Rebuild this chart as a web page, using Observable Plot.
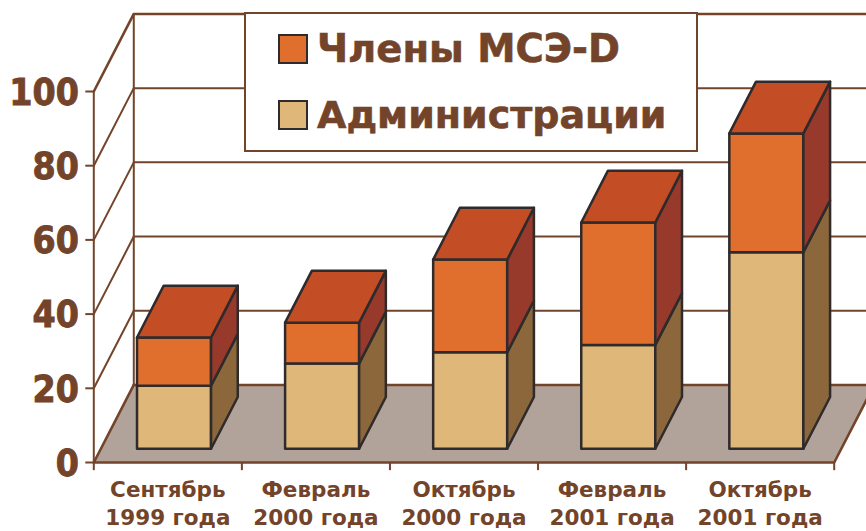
<!DOCTYPE html>
<html>
<head>
<meta charset="utf-8">
<script src="https://cdn.jsdelivr.net/npm/d3@7"></script>
<script src="https://cdn.jsdelivr.net/npm/@observablehq/plot@0.6"></script>
<style>
html,body{margin:0;padding:0;background:#fff;overflow:hidden}
#wrap{position:relative;width:866px;height:531px}
#wrap svg{display:block}
#legend{position:absolute;left:244px;top:12px;width:450px;height:136px;background:#fff;border:2px solid #73442a;
  font-family:"DejaVu Sans",sans-serif;font-weight:700;color:#73442a;-webkit-text-stroke:.6px #73442a}
.sw{position:absolute;left:32px;width:26px;height:26px;border:2px solid #2f2a2b}
.lb{position:absolute;left:71px;line-height:48px;white-space:nowrap}
g[aria-label="y-axis tick label"]{stroke:#73442a;stroke-width:.9px}
</style>
</head>
<body>
<div id="wrap"><div id="legend"></div></div>
<script>
const categories = ["Сентябрь\n1999 года","Февраль\n2000 года","Октябрь\n2000 года","Февраль\n2001 года","Октябрь\n2001 года"];
const administrations = [17,23,26,28,53];
const members = [13,11,25,33,32];
const yTicks = [0,20,40,60,80,100];
const seriesNames = ["Члены МСЭ-D","Администрации"];

const brown = "#73442a", ink = "#2f2a2b";
const floorColor = "#b1a39a";
const memberColors = {front:"#e06f2e", side:"#97392b", top:"#c34d25"};
const adminColors = {front:"#dfb779", side:"#8b673b", top:"#c34d25"};

// oblique projection, in data units: depth 1 = back wall
const depthX = 0.27, depthY = 20.9;
const project = (x, y, d) => ({x: x + d * depthX, y: y + d * depthY});
const barHalf = 0.25, barShift = -0.006, dFront = 0.177, dBack = 0.845;

const polys = [];
let pid = 0;
function poly(pts, fill){
  const id = pid++;
  [...pts, pts[0]].forEach(p => polys.push({...p, id, fill}));
}
categories.forEach((c, i) => {
  const x0 = i + 0.5 + barShift - barHalf, x1 = i + 0.5 + barShift + barHalf;
  const segs = [
    [0, administrations[i], adminColors],
    [administrations[i], administrations[i] + members[i], memberColors]
  ];
  segs.forEach(([a, b, col]) => {
    poly([project(x0,a,dFront),project(x1,a,dFront),project(x1,b,dFront),project(x0,b,dFront)], col.front);
    poly([project(x1,a,dFront),project(x1,a,dBack),project(x1,b,dBack),project(x1,b,dFront)], col.side);
  });
  const top = administrations[i] + members[i];
  poly([project(x0,top,dFront),project(x1,top,dFront),project(x1,top,dBack),project(x0,top,dBack)], memberColors.top);
});

const floor = [project(0,0,0),project(5,0,0),project(5,0,1),project(0,0,1),project(0,0,0)];
const backGrid = yTicks.slice(1,-1).map(v => [project(0,v,1), project(5,v,1)]);
const sideGrid = yTicks.slice(1,-1).map(v => [project(0,v,0), project(0,v,1)]);
const frameLines = [
  [project(0,0,0),project(0,100,0)],
  [project(0,0,1),project(0,100,1)]
];
const topLines = [[project(0,100,0),project(0,100,1),project(5,100,1)]];
const baseLines = [[project(0,0,1),project(5,0,1)],[project(0,0,1),project(0,0,0),project(5,0,0),project(5,0,1)]];
const toRows = lines => lines.flatMap((l,k) => l.map(p => ({...p,k})));

const yText = {fontFamily:'"DejaVu Sans Condensed","DejaVu Sans",sans-serif', fontWeight:700, fill:brown};
const xText = {fontFamily:'"DejaVu Sans",sans-serif', fontWeight:700, fill:brown};

const chart = Plot.plot({
  width:866, height:531,
  marginLeft:93.3, marginRight:32.3, marginTop:91, marginBottom:69,
  style:{background:"#fff", overflow:"hidden"},
  x:{domain:[0,5]},
  y:{domain:[0,100]},
  color:{type:"identity"},
  marks:[
    Plot.line(floor,{x:"x",y:"y",fill:floorColor,stroke:"none"}),
    Plot.line(toRows(backGrid),{x:"x",y:"y",z:"k",stroke:brown,strokeWidth:2}),
    Plot.line(toRows(sideGrid),{x:"x",y:"y",z:"k",stroke:brown,strokeWidth:2}),
    Plot.line(toRows(frameLines),{x:"x",y:"y",z:"k",stroke:brown,strokeWidth:2}),
    Plot.line(toRows(topLines),{x:"x",y:"y",z:"k",stroke:brown,strokeWidth:2.6}),
    Plot.line(toRows(baseLines),{x:"x",y:"y",z:"k",stroke:brown,strokeWidth:2.6}),
    Plot.ruleY(yTicks,{x1:0,x2:-0.054,stroke:brown,strokeWidth:2}),
    Plot.axisY({ticks:yTicks,tickSize:0,tickPadding:15,dy:1.5,fontSize:37,label:null,...yText}),
    Plot.ruleX(d3.range(6),{y1:0,y2:-2.2,stroke:brown,strokeWidth:2}),
    Plot.axisX({ticks:categories.map((c,i)=>i+0.5),tickSize:0,tickPadding:15,tickFormat:v=>categories[Math.floor(v)],
      fontSize:21.5,lineHeight:1.28,lineAnchor:"top",label:null,...xText}),
    Plot.line(polys,{x:"x",y:"y",z:"id",fill:"fill",stroke:ink,strokeWidth:2.5,strokeLinejoin:"round"})
  ]
});
document.getElementById("wrap").prepend(chart);

const legend = document.getElementById("legend");
[[memberColors.front,20,5,38.5],[adminColors.front,86,71,38]].forEach(([c,t,lt,fs],i)=>{
  const s=document.createElement("div");s.className="sw";s.style.top=t+"px";s.style.background=c;legend.appendChild(s);
  const l=document.createElement("div");l.className="lb";l.style.top=(lt+6)+"px";l.style.fontSize=fs+"px";l.textContent=seriesNames[i];legend.appendChild(l);
});
</script>
</body>
</html>
